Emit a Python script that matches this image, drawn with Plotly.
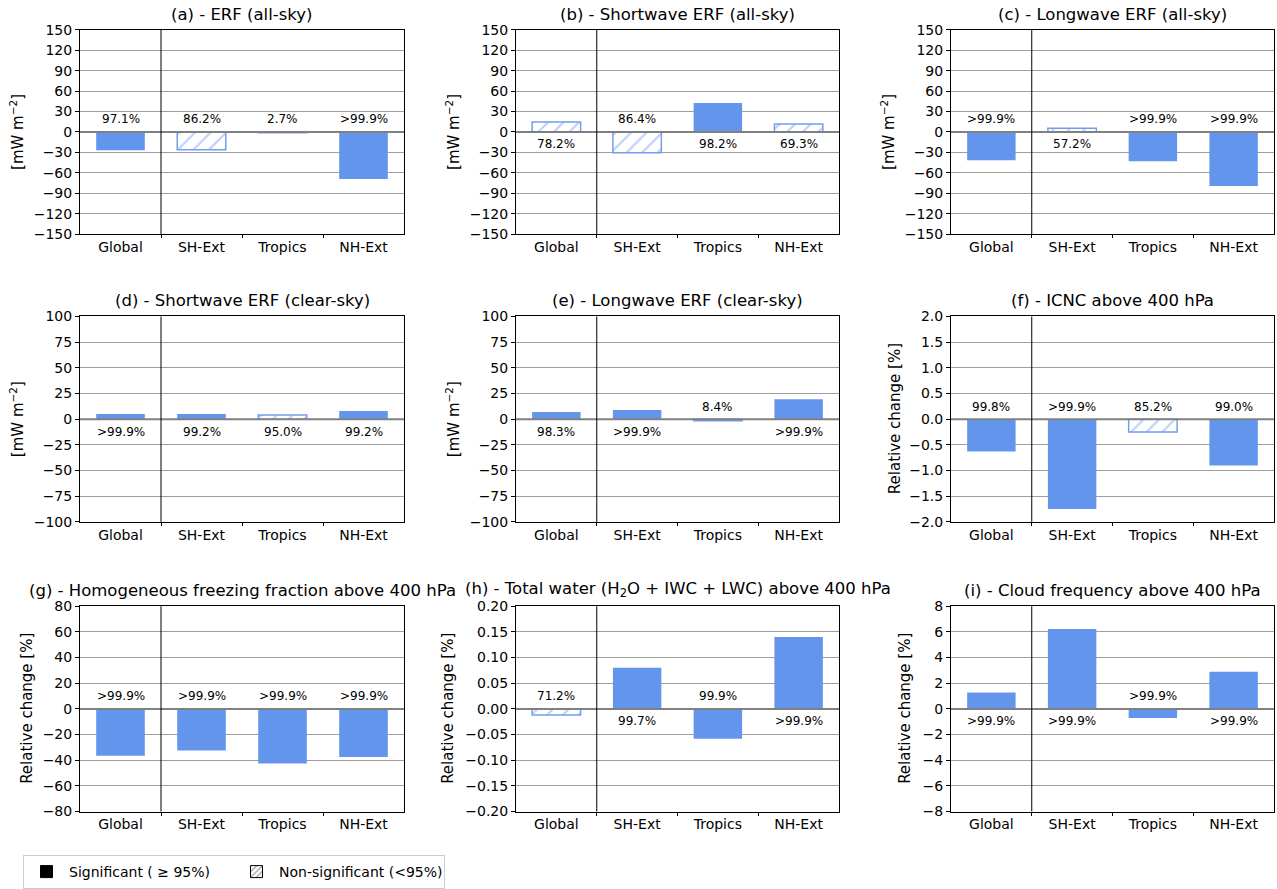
import plotly.graph_objects as go

# ---------------- data ----------------
regions = ["Global", "SH-Ext", "Tropics", "NH-Ext"]

erf_all = [-27, -26, -1, -69]
erf_all_conf = ["97.1%", "86.2%", "2.7%", ">99.9%"]
erf_all_sig = [True, False, False, True]

sw_all = [14.5, -30.5, 42.5, 11.5]
sw_all_conf = ["78.2%", "86.4%", "98.2%", "69.3%"]
sw_all_sig = [False, False, True, False]

lw_all = [-41.5, 5.5, -43, -79.5]
lw_all_conf = [">99.9%", "57.2%", ">99.9%", ">99.9%"]
lw_all_sig = [True, False, True, True]

sw_clr = [5, 5, 4, 8]
sw_clr_conf = [">99.9%", "99.2%", "95.0%", "99.2%"]
sw_clr_sig = [True, True, False, True]

lw_clr = [7, 9, -1.5, 19.5]
lw_clr_conf = ["98.3%", ">99.9%", "8.4%", ">99.9%"]
lw_clr_sig = [True, True, False, True]

icnc = [-0.63, -1.75, -0.25, -0.90]
icnc_conf = ["99.8%", ">99.9%", "85.2%", "99.0%"]
icnc_sig = [True, True, False, True]

hom = [-36.5, -32.5, -42.5, -37.5]
hom_conf = [">99.9%", ">99.9%", ">99.9%", ">99.9%"]
hom_sig = [True, True, True, True]

tw = [-0.012, 0.080, -0.058, 0.140]
tw_conf = ["71.2%", "99.7%", "99.9%", ">99.9%"]
tw_sig = [False, True, True, True]

cf = [1.27, 6.22, -0.72, 2.89]
cf_conf = [">99.9%", ">99.9%", ">99.9%", ">99.9%"]
cf_sig = [True, True, True, True]

titles = [
    "(a) - ERF (all-sky)",
    "(b) - Shortwave ERF (all-sky)",
    "(c) - Longwave ERF (all-sky)",
    "(d) - Shortwave ERF (clear-sky)",
    "(e) - Longwave ERF (clear-sky)",
    "(f) - ICNC above 400 hPa",
    "(g) - Homogeneous freezing fraction above 400 hPa",
    "(h) - Total water (H<sub>2</sub>O + IWC + LWC) above 400 hPa",
    "(i) - Cloud frequency above 400 hPa",
]
unit_flux = "[mW m<sup>−2</sup>]"
unit_rel = "Relative change [%]"
ylabels = [unit_flux] * 5 + [unit_rel] * 4

legend_labels = ["Significant ( ≥ 95%)", "Non-significant (<95%)"]

# axis settings (limit, step, decimals)
yscales = [(150, 30, 0), (150, 30, 0), (150, 30, 0),
           (100, 25, 0), (100, 25, 0), (2, 0.5, 1),
           (80, 20, 0), (0.2, 0.05, 2), (8, 2, 0)]

values = [erf_all, sw_all, lw_all, sw_clr, lw_clr, icnc, hom, tw, cf]
confs = [erf_all_conf, sw_all_conf, lw_all_conf, sw_clr_conf, lw_clr_conf,
         icnc_conf, hom_conf, tw_conf, cf_conf]
sigs = [erf_all_sig, sw_all_sig, lw_all_sig, sw_clr_sig, lw_clr_sig,
        icnc_sig, hom_sig, tw_sig, cf_sig]

# ---------------- layout geometry ----------------
W, H = 1277, 889
col_px = [(80, 404), (516, 839), (951, 1274)]
row_px = [(30, 236), (319, 526), (611, 818)]
ylab_off = [63, 63, 63, 63, 63, 56, 53, 68, 46]

BLUE = "#6495ED"
HATCH = "#739eef"
FONT = "DejaVu Sans"


def fmt(v, d):
    s = f"{abs(v):.{d}f}"
    if round(v, 6) < 0:
        return "−" + s
    return s


fig = go.Figure()
annotations = []
shapes = []
xs = list(range(len(regions)))

for k in range(9):
    r, c = divmod(k, 3)
    ax = "" if k == 0 else str(k + 1)
    xd = [col_px[c][0] / W, col_px[c][1] / W]
    yd = [1 - row_px[r][1] / H, 1 - row_px[r][0] / H]
    lim, step, dec = yscales[k]
    n = int(round(2 * lim / step))
    tv = [-lim + i * step for i in range(n + 1)]
    tt = [fmt(v, dec) for v in tv]

    sig = sigs[k]
    vals = values[k]
    sig_vals = [v if s else None for v, s in zip(vals, sig)]
    non_vals = [None if s else v for v, s in zip(vals, sig)]

    fig.add_trace(go.Bar(
        x=xs, y=sig_vals, width=0.6,
        marker=dict(color=BLUE, line=dict(color=BLUE, width=0)),
        xaxis="x" + ax, yaxis="y" + ax, showlegend=False, hoverinfo="skip",
    ))
    fig.add_trace(go.Bar(
        x=xs, y=non_vals, width=0.6,
        marker=dict(color="white", line=dict(color=HATCH, width=1.5),
                    pattern=dict(shape="/", fgcolor=HATCH, bgcolor="white",
                                 size=11, solidity=0.18)),
        xaxis="x" + ax, yaxis="y" + ax, showlegend=False, hoverinfo="skip",
    ))

    fig.layout["xaxis" + ax] = dict(
        domain=xd, anchor="y" + ax, range=[-0.5, 3.5],
        tickmode="array", tickvals=xs, ticktext=regions,
        ticks="", showgrid=False, zeroline=False,
        showline=True, mirror=True, linecolor="black", linewidth=1,
        tickfont=dict(family=FONT, size=14, color="black"),
        minor=dict(tickmode="array", tickvals=[0.5, 1.5, 2.5], ticks="outside",
                   ticklen=3, tickcolor="black", showgrid=False),
        automargin=False, fixedrange=True,
    )
    fig.layout["yaxis" + ax] = dict(
        domain=yd, anchor="x" + ax, range=[-lim, lim],
        tickmode="array", tickvals=tv, ticktext=tt,
        ticks="outside", ticklen=4, tickcolor="black",
        showgrid=True, gridcolor="#9e9e9e", gridwidth=1, zeroline=False,
        showline=True, mirror=True, linecolor="black", linewidth=1,
        tickfont=dict(family=FONT, size=14, color="black"),
        automargin=False, fixedrange=True,
    )

    # zero line and region separator
    shapes.append(dict(type="line", xref=f"x{ax} domain", yref="y" + ax,
                       x0=0, x1=1, y0=0, y1=0,
                       line=dict(color="#808080", width=2), layer="above"))
    shapes.append(dict(type="line", xref="x" + ax, yref=f"y{ax} domain",
                       x0=0.5, x1=0.5, y0=0, y1=1,
                       line=dict(color="black", width=1), layer="above"))

    # confidence labels
    for i, (v, t) in enumerate(zip(vals, confs[k])):
        annotations.append(dict(
            x=i, y=0, xref="x" + ax, yref="y" + ax, text=t, showarrow=False,
            yanchor="middle", xanchor="center",
            yshift=12.5 if v < 0 else -12.5,
            font=dict(family=FONT, size=12, color="black")))

    # panel title
    annotations.append(dict(
        x=(xd[0] + xd[1]) / 2, y=yd[1], xref="paper", yref="paper",
        text=titles[k], showarrow=False, xanchor="center", yanchor="bottom",
        yshift=4, font=dict(family=FONT, size=16.5, color="black")))

    # y axis label
    annotations.append(dict(
        x=xd[0], y=(yd[0] + yd[1]) / 2, xref="paper", yref="paper",
        text=ylabels[k], showarrow=False, textangle=-90,
        xanchor="center", yanchor="middle", xshift=-ylab_off[k],
        font=dict(family=FONT, size=15, color="black")))

# legend entries
fig.add_trace(go.Bar(x=[None], y=[None], name=legend_labels[0],
                     marker=dict(color="black", line=dict(color="black", width=1)),
                     showlegend=True, hoverinfo="skip"))
fig.add_trace(go.Bar(x=[None], y=[None], name=legend_labels[1],
                     marker=dict(color="white", line=dict(color="black", width=1),
                                 pattern=dict(shape="/", fgcolor="black", size=5,
                                              solidity=0.25)),
                     showlegend=True, hoverinfo="skip"))

fig.update_layout(
    width=W, height=H, autosize=False,
    margin=dict(l=0, r=0, t=0, b=0),
    paper_bgcolor="white", plot_bgcolor="white",
    font=dict(family=FONT, size=14, color="black"),
    annotations=annotations, shapes=shapes,
    barmode="overlay",
    legend=dict(orientation="h", x=23 / W, xanchor="left",
                y=1 - 862 / H, yanchor="top",
                bordercolor="#cccccc", borderwidth=1, bgcolor="white",
                font=dict(family=FONT, size=14, color="black"),
                itemwidth=35, entrywidth=160, entrywidthmode="pixels",
                traceorder="normal"),
)

fig.write_html("out.html", config={"displayModeBar": False},
               post_script="document.body.style.margin='0';")
